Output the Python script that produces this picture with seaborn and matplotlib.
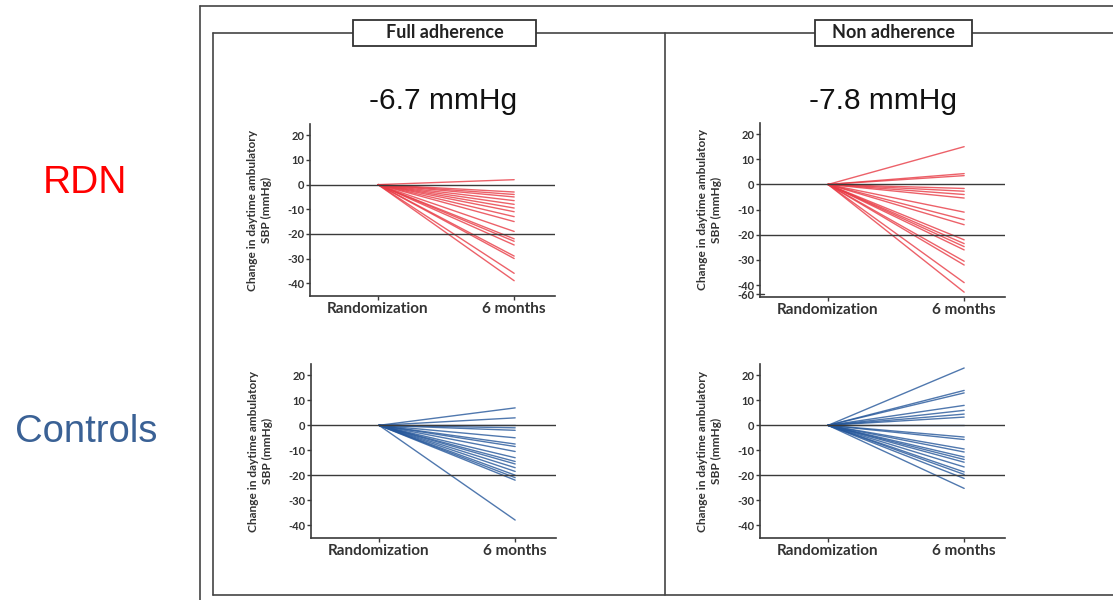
import numpy as np
import pandas as pd
import matplotlib
matplotlib.use("Agg")
import matplotlib.pyplot as plt
from matplotlib.lines import Line2D
from matplotlib.patches import Rectangle
import seaborn as sns

# ---------------- data ----------------
time_labels = ["Randomization", "6 months"]
panel_titles = ["Full adherence", "Non adherence"]
row_labels = ["RDN", "Controls"]
effect_labels = ["-6.7 mmHg", "-7.8 mmHg"]

rdn_full_6m = [2, -3, -4, -5, -6.5, -8, -9.5, -11, -13, -15, -19, -22, -23,
               -24.5, -29, -30, -36, -39]
rdn_non_6m = [15, 4.3, 3.5, -1.6, -2.7, -4, -5.4, -11, -14, -16, -22, -23.5,
              -24.7, -26, -30.5, -32, -39, -55]
ctrl_full_6m = [7, 3, 0, -1, -2, -5, -7.5, -8.5, -10.5, -13, -14.5, -15.5,
                -17, -18.5, -20, -21, -22, -38]
ctrl_non_6m = [23, 14, 13, 8, 6, 4.5, 3.3, 0, -4.7, -5.7, -9.5, -10.7, -12.7,
               -13.7, -14.8, -16.7, -18.7, -19.7, -21.3, -25.3]

yticks_std = [20, 10, 0, -10, -20, -30, -40]
yticks_broken = [20, 10, 0, -10, -20, -30, -40, -60]
ref_lines = [0, -20]

RED = "#e83a44"
BLUE = "#24569a"
GRID_DARK = "#3a3a3a"

sns.set_style("white")
plt.rcParams["font.family"] = ["Lato", "DejaVu Sans"]

W, H = 1113, 600
fig = plt.figure(figsize=(W / 100, H / 100), dpi=100)


def px(x, y):
    return x / W, 1 - y / H


def make_df(vals):
    rows = []
    for i, v in enumerate(vals):
        rows.append({"subject": i, "time": 0, "change": 0.0})
        rows.append({"subject": i, "time": 1, "change": v})
    return pd.DataFrame(rows)


def fwd(y):
    y = np.asarray(y, dtype=float)
    return np.where(y >= -40, y, -40 + (y + 40) * 0.185)


def inv(y):
    y = np.asarray(y, dtype=float)
    return np.where(y >= -40, y, -40 + (y + 40) / 0.185)


panels = [
    # left, top, bottom (pixels), values, color, broken
    (310, 124, 296, rdn_full_6m, RED, False),
    (760, 123, 297, rdn_non_6m, RED, True),
    (311, 364, 538, ctrl_full_6m, BLUE, False),
    (760, 364, 538, ctrl_non_6m, BLUE, False),
]

for (left, top, bottom, vals, col, broken) in panels:
    ax = fig.add_axes([left / W, 1 - bottom / H, 245 / W, (bottom - top) / H])
    df = make_df(vals)
    sns.lineplot(data=df, x="time", y="change", units="subject",
                 estimator=None, color=col, lw=1.0, alpha=0.8, ax=ax,
                 legend=False)
    for r in ref_lines:
        ax.axhline(r, color=GRID_DARK, lw=1.0, zorder=3)
    ax.set_xlim(-0.5, 1.3)
    if broken:
        ax.set_yscale("function", functions=(fwd, inv))
        ax.set_ylim(-65.4, 24.4)
        ax.set_yticks(yticks_broken)
        ax.set_yticklabels([str(t) for t in yticks_broken])
        # small axis-break mark
        ax.plot([-0.5, -0.47], [-58, -58], color=GRID_DARK, lw=1,
                clip_on=False, zorder=4)
    else:
        ax.set_ylim(-45.2, 24.6)
        ax.set_yticks(yticks_std)
        ax.set_yticklabels([str(t) for t in yticks_std])
    ax.set_xticks([0, 1])
    ax.set_xticklabels(time_labels)
    ax.set_xlabel("")
    ax.set_ylabel("Change in daytime ambulatory\nSBP (mmHg)",
                  fontsize=8.6, fontweight="bold", color="#333333",
                  linespacing=1.3)
    ax.yaxis.set_label_coords(-0.155, 0.5)
    for s in ["top", "right"]:
        ax.spines[s].set_visible(False)
    for s in ["left", "bottom"]:
        ax.spines[s].set_color(GRID_DARK)
        ax.spines[s].set_linewidth(1.2)
    ax.tick_params(axis="y", length=3, width=1, color=GRID_DARK, pad=1,
                   labelsize=8, labelcolor="#333333", left=True)
    ax.tick_params(axis="x", length=3, width=1, color=GRID_DARK, pad=1.5,
                   labelsize=11, labelcolor="#333333", bottom=True)
    for lab in ax.get_yticklabels() + ax.get_xticklabels():
        lab.set_fontweight("bold")
    ax.patch.set_alpha(0)

# ---------------- frame lines ----------------
segs = [
    ((200, 6), (200, 600)),
    ((200, 6), (1113, 6)),
    ((213, 33), (213, 595)),
    ((213, 33), (1113, 33)),
    ((665, 33), (665, 595)),
    ((213, 595), (1113, 595)),
]
for (a, b) in segs:
    (x0, y0), (x1, y1) = px(*a), px(*b)
    fig.add_artist(Line2D([x0, x1], [y0, y1], color="#444444", lw=1.2,
                          transform=fig.transFigure, zorder=1))

# panel headers
boxes = [(353, 536), (815, 972)]
for (x0, x1), txt in zip(boxes, panel_titles):
    fx0, fy1 = px(x0, 46)
    fx1, fy0 = px(x1, 20)
    fig.add_artist(Rectangle((fx0, fy1), fx1 - fx0, fy0 - fy1,
                             transform=fig.transFigure, fc="white",
                             ec="#333333", lw=1.3, zorder=4))
    fx, fy = px((x0 + x1) / 2, 33)
    fig.text(fx, fy, txt, ha="center", va="center", fontsize=13,
             fontweight="bold", color="#222222", zorder=5)

# effect labels
for (cx, txt) in zip([443, 883], effect_labels):
    fx, fy = px(cx, 101)
    fig.text(fx, fy, txt, ha="center", va="center", fontsize=21.5,
             family=["Liberation Sans", "DejaVu Sans"], color="#111111")

# row labels
fx, fy = px(85, 183)
fig.text(fx, fy, row_labels[0], ha="center", va="center", fontsize=28,
         family=["Liberation Sans", "DejaVu Sans"], color="#ff0000")
fx, fy = px(86, 432)
fig.text(fx, fy, row_labels[1], ha="center", va="center", fontsize=27.5,
         family=["Liberation Sans", "DejaVu Sans"], color="#3a6195")

fig.savefig("out.png", dpi=100)
